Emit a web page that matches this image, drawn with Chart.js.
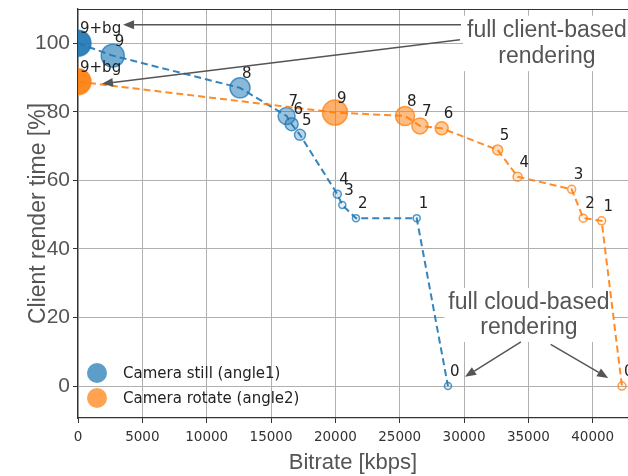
<!DOCTYPE html>
<html><head><meta charset="utf-8">
<script src="https://cdn.jsdelivr.net/npm/chart.js@4/dist/chart.umd.min.js"></script>
<style>html,body{margin:0;padding:0;background:#fff;}canvas{display:block;}</style>
</head><body>
<canvas id="c" width="628" height="476"></canvas>
<script>
// ---- data ----
const pointLabels = ['9+bg', '9', '8', '7', '6', '5', '4', '3', '2', '1', '0'];
const stillBitrate = [0, 2700, 12590, 16210, 16600, 17250, 20150, 20540, 21600, 26320, 28750];
const stillRender  = [100, 96.4, 87.0, 78.8, 76.4, 73.3, 56.0, 52.8, 49.0, 49.0, 0];
const rotateBitrate = [0, 19970, 25410, 26570, 28260, 32610, 34160, 38360, 39260, 40690, 42270];
const rotateRender  = [88.8, 79.8, 78.8, 75.9, 75.2, 68.9, 61.1, 57.4, 49.0, 48.2, 0];
const seriesNames = ['Camera still (angle1)', 'Camera rotate (angle2)'];
const xTicks = [0, 5000, 10000, 15000, 20000, 25000, 30000, 35000, 40000];
const yTicks = [0, 20, 40, 60, 80, 100];
const clientNote = ['full client-based', 'rendering'];
const cloudNote = ['full cloud-based', 'rendering'];

// ---- styles ----
const BLUE = [31, 119, 180], ORANGE = [255, 127, 14];
const rgba = (c, a) => `rgba(${c[0]},${c[1]},${c[2]},${a})`;
const stillRadius  = [13, 11.5, 10, 8.5, 6.5, 5.5, 4, 3.5, 3.5, 3.5, 3.5];
const rotateRadius = [13, 12.5, 9.5, 8, 6.5, 5, 4.5, 4, 4, 4, 4];
const fillAlpha = [0.92, 0.62, 0.52, 0.45, 0.4, 0.3, 0.2, 0.1, 0.08, 0.08, 0.08];

function makeSet(name, xs, ys, col, radii, order) {
  return {
    label: name,
    data: xs.map((x, i) => ({x: x, y: ys[i]})),
    pointText: pointLabels,
    showLine: true,
    borderColor: rgba(col, 0.9),
    borderWidth: 2,
    borderDash: [7, 4],
    pointRadius: radii,
    pointHoverRadius: radii,
    pointBackgroundColor: fillAlpha.map(a => rgba(col, a)),
    pointBorderColor: rgba(col, 0.75),
    pointBorderWidth: 1.5,
    clip: 0,
    order: order,
    baseColor: col
  };
}

function arrow(ctx, x1, y1, x2, y2) {
  const a = Math.atan2(y2 - y1, x2 - x1), L = 11, W = 4.5;
  const bx = x2 - L * Math.cos(a), by = y2 - L * Math.sin(a);
  ctx.beginPath(); ctx.moveTo(x1, y1); ctx.lineTo(bx, by); ctx.stroke();
  ctx.beginPath(); ctx.moveTo(x2, y2);
  ctx.lineTo(bx + W * Math.sin(a), by - W * Math.cos(a));
  ctx.lineTo(bx - W * Math.sin(a), by + W * Math.cos(a));
  ctx.closePath(); ctx.fill();
}

const NOTE_FONT = '23px "Liberation Sans", Arial, sans-serif';
// annotation anchor points in data coordinates
const notes = [
  {lines: clientNote, cx: 36440, base: [101.9, 94.2],
   arrows: [[29760, 105.4, 3500, 105.4], [29680, 101.0, 1865, 88.2]]},
  {lines: cloudNote, cx: 35040, base: [22.5, 15.2],
   arrows: [[34420, 12.9, 30070, 2.7], [36730, 12.2, 41200, 2.4]]}
];

const overlay = {
  id: 'overlay',
  beforeDatasetsDraw(chart) {
    const ctx = chart.ctx, xs = chart.scales.x, ys = chart.scales.y;
    ctx.save();
    ctx.font = NOTE_FONT;
    ctx.fillStyle = '#fff';
    notes.forEach(n => {
      const cx = xs.getPixelForValue(n.cx);
      const w = Math.max(...n.lines.map(t => ctx.measureText(t).width));
      const top = ys.getPixelForValue(n.base[0]) - 17 - 4;
      const bot = ys.getPixelForValue(n.base[n.base.length - 1]) + 5 + 3;
      ctx.fillRect(cx - w / 2 - 4, top, w + 8, bot - top);
    });
    ctx.restore();
  },
  afterDatasetsDraw(chart) {
    const ctx = chart.ctx, xs = chart.scales.x, ys = chart.scales.y, ca = chart.chartArea;
    ctx.save();
    // top spine
    ctx.strokeStyle = '#333'; ctx.lineWidth = 1.2;
    ctx.beginPath(); ctx.moveTo(ca.left, ca.top + 0.5); ctx.lineTo(ca.right, ca.top + 0.5); ctx.stroke();
    // point labels
    ctx.font = '15px "DejaVu Sans", sans-serif';
    ctx.fillStyle = '#222'; ctx.textAlign = 'left'; ctx.textBaseline = 'alphabetic';
    chart.data.datasets.forEach((ds, i) => {
      chart.getDatasetMeta(i).data.forEach((pt, j) => ctx.fillText(ds.pointText[j], pt.x + 2, pt.y - 10));
    });
    // legend
    ctx.font = '15px "DejaVu Sans", sans-serif';
    ctx.textBaseline = 'middle';
    chart.data.datasets.forEach((ds, i) => {
      const y = ca.bottom - 45 + i * 25, x = ca.left + 19;
      ctx.beginPath(); ctx.arc(x, y, 10, 0, Math.PI * 2);
      ctx.fillStyle = rgba(ds.baseColor, 0.72); ctx.fill();
      ctx.fillStyle = '#222';
      ctx.fillText(ds.label, ca.left + 45, y + 1);
    });
    // annotations
    ctx.font = NOTE_FONT;
    ctx.fillStyle = '#555'; ctx.strokeStyle = '#555'; ctx.lineWidth = 1.5;
    ctx.textAlign = 'center'; ctx.textBaseline = 'alphabetic';
    notes.forEach(n => {
      const cx = xs.getPixelForValue(n.cx);
      n.lines.forEach((t, k) => ctx.fillText(t, cx, ys.getPixelForValue(n.base[k])));
      n.arrows.forEach(a => arrow(ctx, xs.getPixelForValue(a[0]), ys.getPixelForValue(a[1]),
                                       xs.getPixelForValue(a[2]), ys.getPixelForValue(a[3])));
    });
    ctx.restore();
  }
};

new Chart(document.getElementById('c'), {
  type: 'scatter',
  data: {
    datasets: [
      makeSet(seriesNames[0], stillBitrate, stillRender, BLUE, stillRadius, 2),
      makeSet(seriesNames[1], rotateBitrate, rotateRender, ORANGE, rotateRadius, 1)
    ]
  },
  options: {
    responsive: false,
    animation: false,
    devicePixelRatio: 1,
    layout: {autoPadding: false, padding: {top: 9, left: 0, right: 0, bottom: 0}},
    plugins: {legend: {display: false}, tooltip: {enabled: false}},
    scales: {
      x: {
        type: 'linear', min: 0, max: 42740,
        afterBuildTicks: s => { s.ticks = xTicks.map(v => ({value: v})); },
        afterFit: s => { s.height = 58; s.paddingLeft = 0; s.paddingRight = 0; },
        ticks: {
          padding: 6, color: '#333', maxRotation: 0, autoSkip: false,
          font: {family: '"DejaVu Sans", sans-serif', size: 13.5},
          callback: v => String(v)
        },
        grid: {color: '#b0b0b0', lineWidth: 1, tickLength: 5, tickColor: '#333'},
        border: {color: '#333', width: 1.2},
        title: {display: true, text: 'Bitrate [kbps]', color: '#555',
          font: {family: '"Liberation Sans", Arial, sans-serif', size: 22}, padding: {top: 0, bottom: 0}}
      },
      y: {
        type: 'linear', min: -9.3, max: 110,
        afterBuildTicks: s => { s.ticks = yTicks.map(v => ({value: v})); },
        afterFit: s => { s.width = 78; s.paddingTop = 0; s.paddingBottom = 0; },
        ticks: {
          padding: 3, color: '#555',
          font: {family: '"Liberation Sans", Arial, sans-serif', size: 21},
          callback: v => String(v)
        },
        grid: {color: '#b0b0b0', lineWidth: 1, tickLength: 5, tickColor: '#333'},
        border: {color: '#333', width: 1.2},
        title: {display: true, text: 'Client render time [%]', color: '#555',
          font: {family: '"Liberation Sans", Arial, sans-serif', size: 23}, padding: {top: 25, bottom: 0}}
      }
    }
  },
  plugins: [overlay]
});
</script>
</body></html>
